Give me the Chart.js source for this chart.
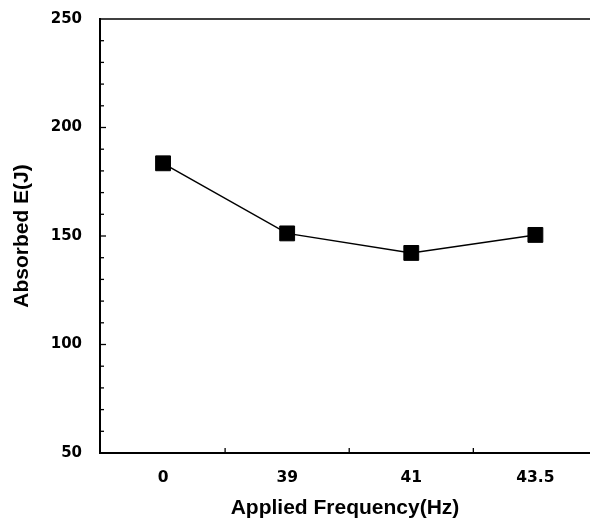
<!DOCTYPE html>
<html>
<head>
<meta charset="utf-8">
<script src="https://cdn.jsdelivr.net/npm/chart.js@4/dist/chart.umd.min.js"></script>
<style>
  html, body { margin: 0; padding: 0; background: #fff; overflow: hidden; }
  canvas { display: block; }
</style>
</head>
<body>
<canvas id="c" width="590" height="523"></canvas>
<script>
const categories = ['0', '39', '41', '43.5'];
const absorbedE = [183.5, 151.2, 142.2, 150.5];
const yTickLabels = [50, 100, 150, 200, 250];

const points = categories.map((c, i) => ({ x: i, y: absorbedE[i] }));

const tickMarks = {
  id: 'tickMarks',
  afterDraw(chart) {
    const ctx = chart.ctx;
    const ys = chart.scales.y, xs = chart.scales.x;
    const area = chart.chartArea;
    ctx.save();
    ctx.strokeStyle = '#000';
    ctx.lineWidth = 1.3;
    // top frame line
    ctx.beginPath();
    ctx.moveTo(area.left, area.top);
    ctx.lineTo(area.right, area.top);
    ctx.stroke();
    // y ticks inward
    for (let v = 60; v < 250; v += 10) {
      const py = ys.getPixelForValue(v);
      const len = (v % 50 === 0) ? 6 : 4;
      ctx.beginPath();
      ctx.moveTo(area.left, py);
      ctx.lineTo(area.left + len, py);
      ctx.stroke();
    }
    // x ticks inward between categories
    for (let i = 0; i < categories.length - 1; i++) {
      const px = xs.getPixelForValue(i + 0.5);
      ctx.beginPath();
      ctx.moveTo(px, area.bottom);
      ctx.lineTo(px, area.bottom - 5);
      ctx.stroke();
    }
    ctx.restore();
  }
};

new Chart(document.getElementById('c'), {
  type: 'line',
  data: {
    datasets: [{
      data: points,
      borderColor: '#000',
      backgroundColor: '#000',
      borderWidth: 1.5,
      pointStyle: 'rect',
      pointRadius: 10.5,
      pointBorderWidth: 1,
      pointBackgroundColor: '#000',
      pointBorderColor: '#000',
      tension: 0
    }]
  },
  plugins: [tickMarks],
  options: {
    responsive: false,
    devicePixelRatio: 1,
    animation: false,
    layout: { autoPadding: false, padding: { top: 19, right: 0, left: 0, bottom: 0 } },
    plugins: { legend: { display: false }, tooltip: { enabled: false } },
    scales: {
      x: {
        type: 'linear',
        min: -0.508,
        max: 3.44,
        afterBuildTicks(scale) { scale.ticks = categories.map((c, i) => ({ value: i })); },
        afterFit(scale) { scale.height = 70; scale.paddingLeft = 0; scale.paddingRight = 0; },
        grid: { display: false },
        border: { display: true, color: '#000', width: 2 },
        ticks: {
          callback: (v) => categories[v],
          color: '#000',
          padding: 8,
          maxRotation: 0,
          autoSkip: false,
          font: { family: 'DejaVu Sans, sans-serif', size: 15.5, weight: 'bold' }
        },
        title: {
          display: true,
          text: 'Applied Frequency(Hz)',
          color: '#000',
          padding: { top: 0, bottom: 2 },
          font: { family: 'Liberation Sans, Arial, sans-serif', size: 21, weight: 'bold' }
        }
      },
      y: {
        min: 50,
        max: 250,
        afterBuildTicks(scale) { scale.ticks = yTickLabels.map(v => ({ value: v })); },
        afterFit(scale) { scale.width = 100; scale.paddingTop = 0; scale.paddingBottom = 0; },
        grid: { display: false },
        border: { display: true, color: '#000', width: 2 },
        ticks: {
          color: '#000',
          padding: 10,
          font: { family: 'DejaVu Sans, sans-serif', size: 15, weight: 'bold' }
        },
        title: {
          display: true,
          text: 'Absorbed E(J)',
          color: '#000',
          padding: { top: 10, bottom: 0 },
          font: { family: 'Liberation Sans, Arial, sans-serif', size: 21, weight: 'bold' }
        }
      }
    }
  }
});
</script>
</body>
</html>
